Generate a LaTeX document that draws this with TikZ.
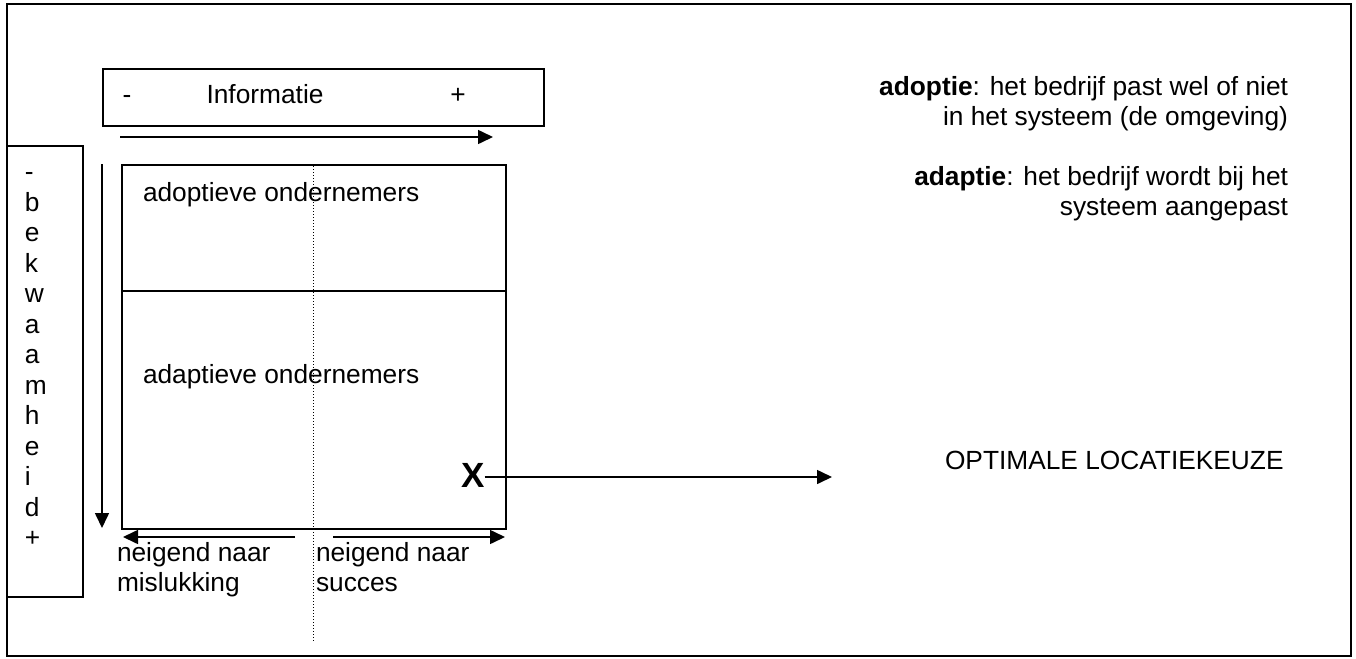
\documentclass[tikz,border=0pt]{standalone}
\usepackage{fontspec}
\setmainfont{Liberation Sans}
\usetikzlibrary{arrows.meta}
\begin{document}
\begin{tikzpicture}[x=0.5pt,y=-0.5pt,
  every node/.style={inner sep=0pt, outer sep=0pt, font=\fontsize{13.15pt}{15.1pt}\selectfont},
  frame/.style={draw, line width=1pt},
  arr/.style={line width=0.8pt, -{Triangle[length=7.5pt,width=7pt]}},
  dotline/.style={line width=0.5pt, dash pattern=on 0.5pt off 1pt},
  tl/.style={anchor=base west},
  tr/.style={anchor=base east},
  tc/.style={anchor=base},
]
\useasboundingbox (0,0) rectangle (1356,659);
% outer frame
\node[frame, minimum width=672pt, minimum height=326pt] (outer) at (679,330) {};
% Informatie box
\node[frame, minimum width=220.5pt, minimum height=28.5pt] (info) at (323.5,97.5) {};
\node[tc] (infominus) at (127,103.5) {-};
\node[tc] (infotext) at (265,103.5) {Informatie};
\node[tc] (infoplus) at (458,103.5) {+};
\coordinate (ia) at (120,137);
\coordinate (ib) at (493,137);
\draw[arr] (ia) -- (ib);
% bekwaamheid box
\node[frame, minimum width=38pt, minimum height=225.5pt] (bekw) at (45,371.5) {};
\foreach \c [count=\i from 0] in {-,b,e,k,w,a,a,m,h,e,i,d,+}{
  \node[tl] (bk\i) at (25,180.5+30.5*\i) {\c};
}
\coordinate (da) at (102,164);
\coordinate (db) at (102,528);
\draw[arr] (da) -- (db);
% main box
\node[frame, minimum width=192pt, minimum height=182pt] (main) at (314,347) {};
\coordinate (divy) at (0,291);
\draw[line width=1pt] (main.west |- divy) -- (main.east |- divy);
\coordinate (dtop) at (313,166);
\coordinate (dbot) at (313,642);
\draw[dotline] (dtop) -- (dbot);
\node[tl] (adop) at (143,201) {adoptieve ondernemers};
\node[tl] (adap) at (143,383) {adaptieve ondernemers};
% X and arrow
\node[tc, font=\fontsize{17.5pt}{20pt}\selectfont\bfseries] (X) at (473,487) {X};
\coordinate (xtip) at (832,477);
\draw[arr] (X.east |- xtip) -- (xtip);
\node[tl] (opt) at (945,469) {OPTIMALE LOCATIEKEUZE};
% bottom arrows
\coordinate (la) at (295,537);
\coordinate (lb) at (123,537);
\draw[arr] (la) -- (lb);
\coordinate (ra) at (333,537);
\coordinate (rb) at (505,537);
\draw[arr] (ra) -- (rb);
\node[tl] (nm1) at (117,561) {neigend naar};
\node[tl] (nm2) at (117,591) {mislukking};
\node[tl] (ns1) at (316,561) {neigend naar};
\node[tl] (ns2) at (316,591) {succes};
% right definitions
\node[tr] (d1) at (1288,95) {\textbf{adoptie}: het bedrijf past wel of niet};
\node[tr] (d2) at (1288,125) {in het systeem (de omgeving)};
\node[tr] (d3) at (1288,185) {\textbf{adaptie}: het bedrijf wordt bij het};
\node[tr] (d4) at (1288,215) {systeem aangepast};
\end{tikzpicture}
\end{document}
